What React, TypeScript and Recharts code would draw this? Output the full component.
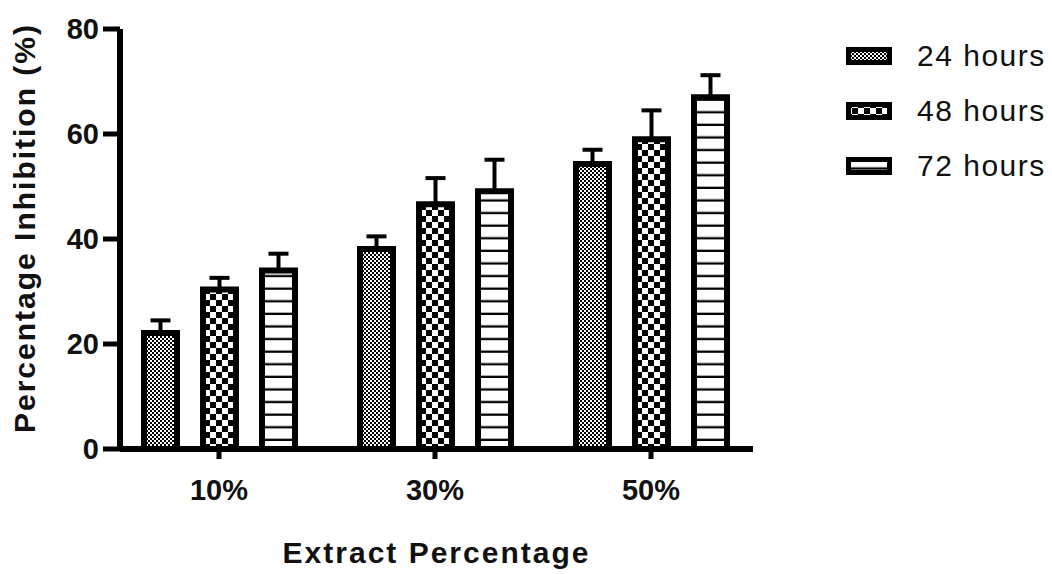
import { BarChart, Bar, XAxis, YAxis, ErrorBar, Legend } from 'recharts'

const categories = ['10%', '30%', '50%']
const seriesNames = ['24 hours', '48 hours', '72 hours']
const hours24 = [22.1, 38.1, 54.3]
const hours48 = [30.4, 46.6, 59.0]
const hours72 = [34.0, 49.1, 67.0]
const err24 = [2.4, 2.4, 2.7]
const err48 = [2.2, 5.0, 5.5]
const err72 = [3.2, 6.0, 4.2]
const yTicks = [0, 20, 40, 60, 80]

const data = categories.map((c, i) => ({
  cat: c,
  h24: hours24[i],
  h48: hours48[i],
  h72: hours72[i],
  e24: [0, err24[i]],
  e48: [0, err48[i]],
  e72: [0, err72[i]],
}))

const font = '"Liberation Sans", Arial, sans-serif'
const patternIds = ['pat24', 'pat48', 'pat72']

function Patterns({ prefix = '' }: { prefix?: string }) {
  return (
    <defs>
      <pattern id={prefix + 'pat24'} width={4} height={4} patternUnits="userSpaceOnUse">
        <rect width={4} height={4} fill="#fff" />
        <rect width={2} height={2} fill="#000" />
        <rect x={2} y={2} width={2} height={2} fill="#000" />
      </pattern>
      <pattern id={prefix + 'pat48'} width={12} height={12} patternUnits="userSpaceOnUse">
        <rect width={12} height={12} fill="#fff" />
        <rect width={6} height={6} fill="#000" />
        <rect x={6} y={6} width={6} height={6} fill="#000" />
      </pattern>
      <pattern id={prefix + 'pat72'} width={12} height={12.6} patternUnits="userSpaceOnUse">
        <rect width={12} height={12.6} fill="#fff" />
        <rect y={10.3} width={12} height={2.3} fill="#000" />
      </pattern>
    </defs>
  )
}

function LegendContent() {
  return (
    <div style={{ fontFamily: font, fontSize: 30, letterSpacing: 1.5, color: '#111' }}>
      <svg width={0} height={0} style={{ position: 'absolute' }}>
        <Patterns prefix="lg" />
      </svg>
      {seriesNames.map((name, i) => (
        <div key={name} style={{ display: 'flex', alignItems: 'center', height: 55 }}>
          <svg width={46} height={18}>
            <rect x={2.5} y={2.5} width={41} height={13} fill={`url(#lg${patternIds[i]})`} stroke="#000" strokeWidth={5} />
          </svg>
          <span style={{ marginLeft: 25, lineHeight: '30px' }}>{name}</span>
        </div>
      ))}
    </div>
  )
}

function YLabel({ viewBox }: any) {
  const cy = viewBox ? viewBox.y + viewBox.height / 2 - 11 : 228
  return (
    <text
      x={35}
      y={cy}
      transform={`rotate(-90, 35, ${cy})`}
      textAnchor="middle"
      fontFamily={font}
      fontWeight="bold"
      fontSize={30}
      letterSpacing={2}
      fill="#111"
    >
      Percentage Inhibition (%)
    </text>
  )
}

export default function App() {
  const tickStyle = { fontFamily: font, fontWeight: 'bold' as const, fontSize: 29, fill: '#111' }
  return (
    <div style={{ position: 'absolute', left: 0, top: 0, background: '#fff' }}>
      <BarChart
        width={1052}
        height={574}
        data={data}
        margin={{ top: 29, right: 299, left: 0, bottom: 0 }}
        barSize={33}
        barGap={26}
      >
        <Patterns />
        <XAxis
          dataKey="cat"
          height={125}
          padding={{ left: -9, right: -6 }}
          axisLine={{ stroke: '#000', strokeWidth: 6 }}
          tickLine={{ stroke: '#000', strokeWidth: 5 }}
          tickSize={10}
          tickMargin={20}
          tick={tickStyle}
          label={{
            value: 'Extract Percentage',
            position: 'insideBottom',
            offset: 11,
            style: { fontFamily: font, fontWeight: 'bold', fontSize: 30, letterSpacing: 2, fill: '#111' },
          }}
        />
        <YAxis
          width={120}
          domain={[0, 80]}
          ticks={yTicks}
          axisLine={{ stroke: '#000', strokeWidth: 6 }}
          tickLine={{ stroke: '#000', strokeWidth: 5 }}
          tickSize={17}
          tickMargin={4}
          tick={tickStyle}
          label={<YLabel />}
        />
        <Legend
          layout="vertical"
          verticalAlign="middle"
          align="center"
          content={<LegendContent />}
          wrapperStyle={{ left: 846, top: 28, width: 206 }}
        />
        <Bar dataKey="h24" fill="url(#pat24)" stroke="#000" strokeWidth={6} isAnimationActive={false}>
          <ErrorBar dataKey="e24" direction="y" width={10} stroke="#000" strokeWidth={4} />
        </Bar>
        <Bar dataKey="h48" fill="url(#pat48)" stroke="#000" strokeWidth={6} isAnimationActive={false}>
          <ErrorBar dataKey="e48" direction="y" width={10} stroke="#000" strokeWidth={4} />
        </Bar>
        <Bar dataKey="h72" fill="url(#pat72)" stroke="#000" strokeWidth={6} isAnimationActive={false}>
          <ErrorBar dataKey="e72" direction="y" width={10} stroke="#000" strokeWidth={4} />
        </Bar>
      </BarChart>
    </div>
  )
}
